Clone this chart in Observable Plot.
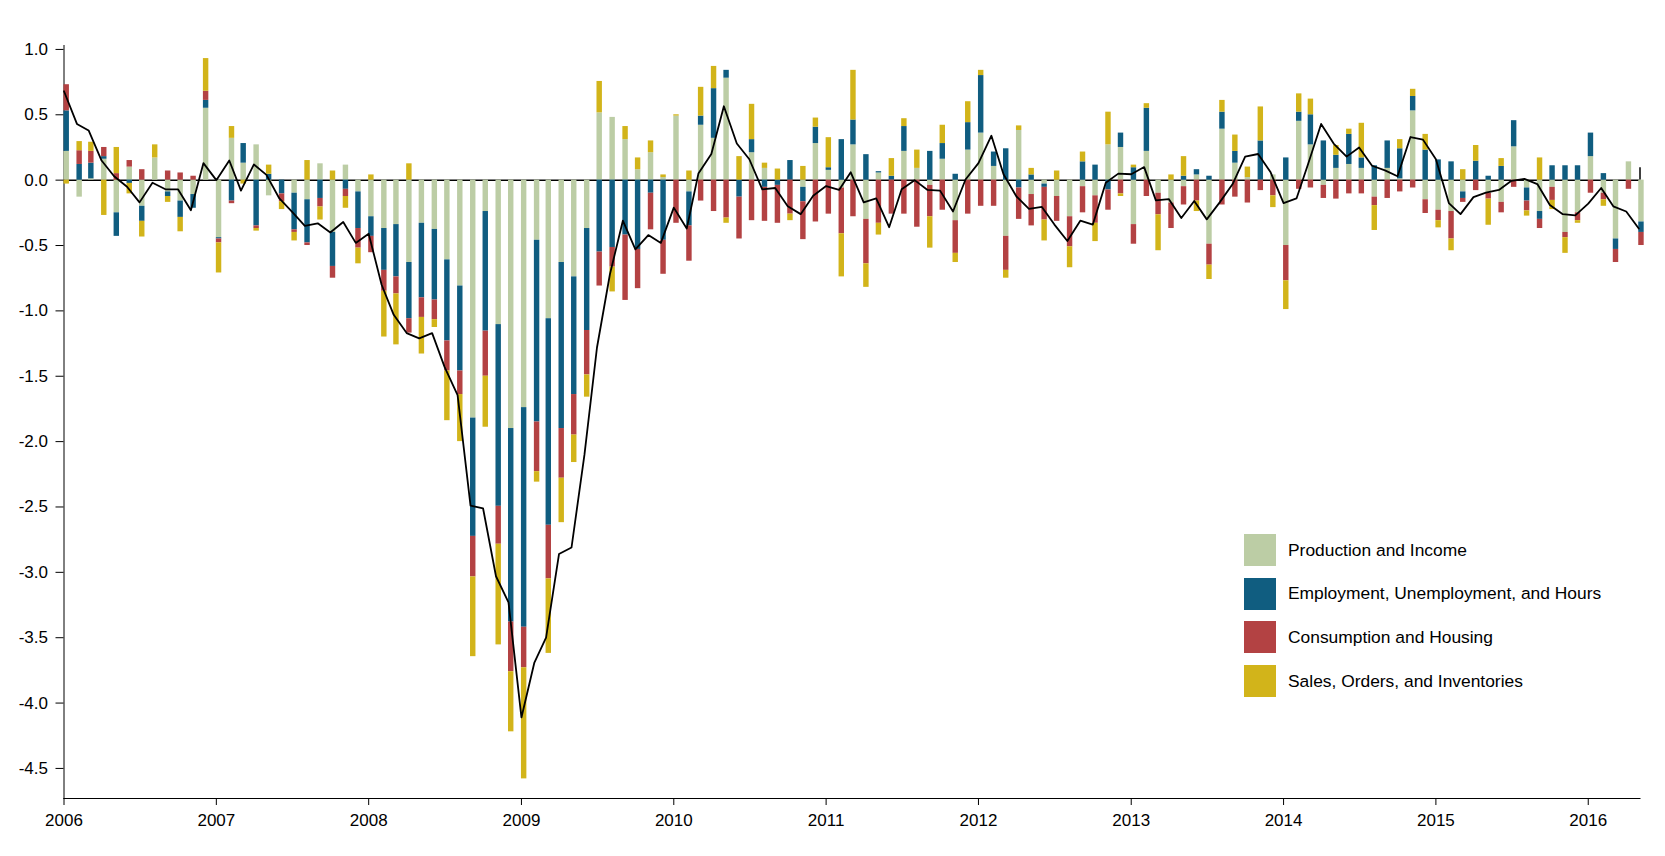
<!DOCTYPE html>
<html>
<head>
<meta charset="utf-8">
<script src="https://cdn.jsdelivr.net/npm/d3@7"></script>
<script src="https://cdn.jsdelivr.net/npm/@observablehq/plot@0.6"></script>
<style>
  html, body { margin: 0; padding: 0; background: #fff; }
  #wrap { position: relative; width: 1665px; height: 856px; font-family: "Liberation Sans", Arial, Helvetica, sans-serif; }
  #legend { position: absolute; left: 1244px; top: 534px; }
  .item { display: flex; align-items: center; height: 32px; margin-bottom: 11.7px; }
  .sw { width: 32px; height: 32px; margin-right: 12px; }
  .lab { font-size: 17.4px; color: #000; }
</style>
</head>
<body>
<div id="wrap"><div id="chart"></div><div id="legend"></div></div>
<script>
// ---- Data (monthly, Jan 2006 - May 2016) ----
const startMonth = "2006-01-01";
const monthCount = 125;
const seriesNames = [
  "Production and Income",
  "Employment, Unemployment, and Hours",
  "Consumption and Housing",
  "Sales, Orders, and Inventories"
];
const seriesColors = ["#bccda5", "#105d80", "#b34243", "#d2b41a"];
const yearLabels = [2006, 2007, 2008, 2009, 2010, 2011, 2012, 2013, 2014, 2015, 2016];
const yTickValues = [1.0, 0.5, 0.0, -0.5, -1.0, -1.5, -2.0, -2.5, -3.0, -3.5, -4.0, -4.5];

const production = [
  0.22,-0.13,0.01,0.16,-0.25,0.10,-0.20,0.17,-0.09,-0.16,-0.11,0.55,
  -0.44,0.32,0.13,0.27,-0.12,0,-0.10,-0.15,0.125,-0.40,0.115,-0.09,
  -0.28,-0.37,-0.34,-0.63,-0.33,-0.377,-0.61,-0.81,-1.82,-0.24,-1.105,-1.90,
  -1.74,-0.46,-1.06,-0.63,-0.74,-0.37,0.515,0.48,0.31,0.08,0.21,0.02,
  0.49,-0.09,0.42,0.32,0.78,0,0.21,0.09,0,0,-0.055,0.28,
  0.075,-0.06,0.27,-0.30,0.055,0,0.22,0.09,-0.04,0.16,-0.31,0.23,
  0.36,0.105,-0.43,0.38,-0.11,-0.03,-0.125,-0.28,-0.05,-0.12,0.27,0.25,
  -0.34,0.22,-0.10,-0.175,-0.05,0.04,-0.49,0.39,0.13,0.02,0,0.04,
  -0.50,0.45,0.27,-0.04,0.09,0.12,0.09,-0.13,0.09,0.01,0.53,-0.15,
  -0.23,-0.24,-0.09,0,-0.10,-0.17,0.255,-0.06,-0.24,-0.055,-0.40,-0.25,
  0.18,-0.10,-0.45,0.14,-0.32
];
const employment = [
  0.31,0.12,0.12,0.02,-0.18,-0.025,-0.115,0,-0.035,-0.125,-0.105,0.06,
  -0.01,-0.16,0.15,-0.35,0.045,-0.105,-0.28,-0.33,-0.14,-0.26,-0.07,-0.28,
  -0.15,-0.32,-0.40,-0.43,-0.57,-0.54,-0.62,-0.65,-0.905,-0.915,-1.39,-1.48,
  -1.68,-1.39,-1.58,-1.27,-0.90,-0.78,-0.55,-0.515,-0.42,-0.53,-0.10,-0.46,
  0,-0.26,0.07,0.38,0.06,-0.13,0.10,-0.055,-0.04,0.15,-0.11,0.125,
  0.02,0.31,0.19,0.195,0.01,0.03,0.19,0,0.22,0.12,0.045,0.21,
  0.44,0.11,0.24,-0.06,0.04,-0.025,0,0,0.14,0.115,-0.075,0.11,
  0.095,0.33,0,0,0.03,0.04,0.03,0.13,0.09,0,0.30,0,
  0.17,0.07,0.23,0.30,0.10,0.23,0.08,0.11,0.21,0.23,0.11,0.23,
  0.155,0.14,-0.05,0.145,0.03,0.105,0.20,-0.10,-0.06,0.11,0.11,0.11,
  0.18,0.05,-0.08,0,-0.08
];
const consumption = [
  0.20,0.105,0.09,0.07,0.05,0.05,0.08,0,0.07,0.055,0.03,0.07,
  -0.03,-0.02,0,-0.02,0,-0.06,-0.02,-0.02,-0.065,-0.09,-0.055,-0.15,
  -0.125,-0.16,-0.13,-0.11,-0.15,-0.15,-0.23,-0.18,-0.31,-0.345,-0.29,-0.38,
  -0.31,-0.38,-0.41,-0.38,-0.31,-0.34,-0.26,-0.15,-0.50,-0.30,-0.28,-0.26,
  -0.33,-0.27,-0.16,-0.24,-0.29,-0.32,-0.31,-0.26,-0.29,-0.26,-0.29,-0.32,
  -0.26,-0.35,-0.28,-0.34,-0.33,-0.26,-0.26,-0.36,-0.24,-0.23,-0.25,-0.26,
  -0.20,-0.20,-0.26,-0.24,-0.24,-0.25,-0.19,-0.23,-0.20,-0.21,-0.155,-0.105,
  -0.15,-0.125,-0.165,-0.195,-0.14,-0.16,-0.16,-0.19,-0.13,-0.175,-0.08,-0.12,
  -0.27,-0.07,-0.06,-0.10,-0.145,-0.105,-0.105,-0.065,-0.14,-0.09,-0.06,-0.105,
  -0.08,-0.21,-0.03,-0.08,-0.045,-0.08,-0.055,-0.075,-0.07,-0.10,-0.04,-0.06,
  -0.10,-0.05,-0.10,-0.07,-0.10
];
const sales = [
  -0.03,0.07,0.07,-0.27,0.20,-0.08,-0.12,0.10,-0.045,-0.11,0,0.25,
  -0.23,0.09,-0.03,-0.02,0.07,-0.06,-0.065,0.15,-0.10,0.07,-0.09,-0.12,
  0.04,-0.35,-0.39,0.125,-0.28,-0.06,-0.38,-0.36,-0.61,-0.39,-0.77,-0.46,
  -0.85,-0.08,-0.57,-0.34,-0.21,-0.17,0.24,-0.19,0.10,0.09,0.09,0.02,
  0.01,0.07,0.22,0.17,-0.04,0.18,0.27,0.04,0.085,-0.05,0.105,0.07,
  0.23,-0.33,0.38,-0.18,-0.09,0.135,0.06,0.14,-0.24,0.14,-0.07,0.16,
  0.04,0,-0.06,0.035,0.05,-0.16,0.07,-0.16,0.075,-0.14,0.25,-0.02,
  0.02,0.035,-0.275,0.04,0.15,-0.08,-0.11,0.09,0.125,0.08,0.26,-0.09,
  -0.22,0.14,0.12,0,0.075,0.04,0.265,-0.19,0,0.07,0.055,0.12,
  -0.055,-0.09,0.08,0.12,-0.20,0.06,0,-0.04,0.17,-0.07,-0.12,-0.02,
  0,-0.05,0,0,0
];
const cfnai = [
  0.68,0.43,0.38,0.15,0.03,-0.05,-0.17,-0.02,-0.07,-0.07,-0.23,0.13,
  0.0,0.15,-0.08,0.12,0.04,-0.14,-0.24,-0.35,-0.33,-0.40,-0.32,-0.48,
  -0.41,-0.80,-1.03,-1.17,-1.21,-1.17,-1.43,-1.645,-2.49,-2.51,-3.03,-3.23,
  -4.11,-3.69,-3.50,-2.86,-2.81,-2.10,-1.28,-0.72,-0.31,-0.53,-0.42,-0.48,
  -0.21,-0.37,0.05,0.20,0.565,0.28,0.16,-0.07,-0.06,-0.20,-0.26,-0.12,
  -0.045,-0.075,0.06,-0.17,-0.14,-0.36,-0.07,0.0,-0.075,-0.08,-0.24,0.005,
  0.13,0.34,0.045,-0.125,-0.22,-0.205,-0.34,-0.465,-0.31,-0.34,-0.02,0.05,
  0.045,0.10,-0.155,-0.145,-0.29,-0.16,-0.30,-0.17,-0.03,0.18,0.20,0.06,
  -0.175,-0.14,0.125,0.43,0.28,0.18,0.25,0.11,0.075,0.03,0.33,0.31,
  0.16,-0.175,-0.26,-0.13,-0.095,-0.075,-0.005,0.01,-0.03,-0.19,-0.26,-0.27,
  -0.18,-0.06,-0.20,-0.24,-0.37
];

// ---- Build tables ----
const start = new Date(startMonth + "T00:00:00Z");
const end = new Date(Date.UTC(2016, 4, 4));
const months = d3.range(monthCount).map(i => d3.utcMonth.offset(start, i));
const seriesValues = [production, employment, consumption, sales];
const bars = months.flatMap((date, i) =>
  seriesNames.map((series, k) => ({date, series, value: seriesValues[k][i]}))
);
const lineData = months.map((date, i) => ({date, value: cfnai[i]}));
const yearTicks = yearLabels.map(y => new Date(Date.UTC(y, 0, 1)));

const stacked = Plot.stackY({x: "date", y: "value", z: "series", fill: "series", order: seriesNames});

const chart = Plot.plot({
  width: 1665,
  height: 856,
  marginLeft: 63.5,
  marginRight: 25.5,
  marginTop: 45,
  marginBottom: 58,
  style: {fontFamily: "'Liberation Sans', Arial, Helvetica, sans-serif", fontSize: "17px", color: "#000", background: "#fff", overflow: "visible"},
  x: {
    type: "utc",
    domain: [start, end],
    ticks: yearTicks,
    tickFormat: d3.utcFormat("%Y"),
    tickSize: 7,
    tickPadding: 8,
    line: true,
    label: null
  },
  y: {
    domain: [-4.73, 1.03],
    ticks: yTickValues,
    tickFormat: d => d.toFixed(1),
    tickSize: 8,
    tickPadding: 8,
    line: true,
    label: null
  },
  color: {domain: seriesNames, range: seriesColors},
  marks: [
    Plot.ruleY([0], {stroke: "#000", strokeWidth: 1.5}),
    Plot.ruleX([end], {y1: 0, y2: 0.095, stroke: "#000", strokeWidth: 1.5}),
    Plot.rectY(bars, {...stacked, x1: "date", x2: d => d3.utcDay.offset(d.date, 13)}),
    Plot.line(lineData, {x: "date", y: "value", stroke: "#000", strokeWidth: 1.8})
  ]
});
document.getElementById("chart").appendChild(chart);

// ---- Legend ----
const legend = document.getElementById("legend");
seriesNames.forEach((name, k) => {
  const item = document.createElement("div");
  item.className = "item";
  const sw = document.createElement("div");
  sw.className = "sw";
  sw.style.background = seriesColors[k];
  const lab = document.createElement("div");
  lab.className = "lab";
  lab.textContent = name;
  item.appendChild(sw);
  item.appendChild(lab);
  legend.appendChild(item);
});
</script>
</body>
</html>
